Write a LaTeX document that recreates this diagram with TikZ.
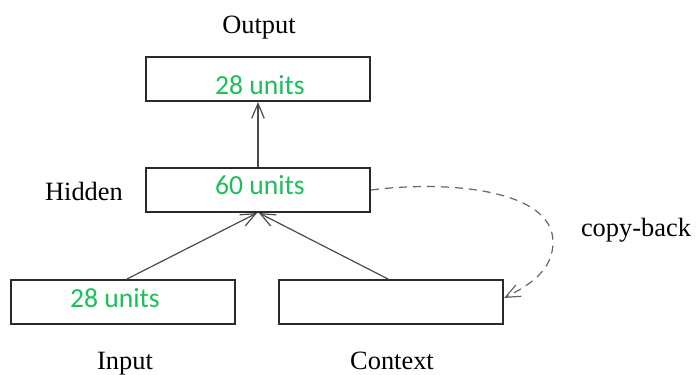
\documentclass[tikz,border=0pt]{standalone}
\usepackage{fontspec}
\setmainfont{Liberation Serif}
\newfontfamily\unitfont{Carlito}
\usetikzlibrary{arrows.meta, positioning}
\definecolor{unitgreen}{HTML}{1EBE5A}
\definecolor{boxline}{HTML}{2A2A2A}
\definecolor{arrline}{HTML}{4A4A4A}
\tikzset{
  layer/.style  = {rectangle, draw=boxline, line width=1pt, fill=white,
                   minimum width=112pt, minimum height=22pt, inner sep=0pt},
  units/.style  = {font=\unitfont\fontsize{13.8}{16}\selectfont, text=unitgreen,
                   inner sep=0pt, anchor=base},
  lbl/.style    = {font=\fontsize{13.2}{16}\selectfont, inner sep=0pt, anchor=base},
  flow/.style   = {-{Straight Barb[length=2.6mm, width=2.2mm]}, line width=0.6pt, draw=arrline},
  copyline/.style={-{Straight Barb[length=2.6mm, width=2.2mm]}, line width=0.6pt,
                   draw=arrline!85, dash pattern=on 4pt off 3pt},
}

\begin{document}
\begin{tikzpicture}[x=0.5pt, y=-0.5pt]
  \useasboundingbox (0,0) rectangle (698,375);
  % the three layers and the context copy
  \node[layer] (out) at (258,79)  {};
  \node[layer] (hid) at (258,190) {};
  \node[layer] (inp) at (123,302) {};
  \node[layer] (ctx) at (391,302) {};
  \node[units] (outn) at (260,95)  {28 units};
  \node[units] (hidn) at (260,194) {60 units};
  \node[units] (inpn) at (115,307) {28 units};
  % names
  \node[lbl] (outl) at (259,33)  {Output};
  \node[lbl] (hidl) at (84,200)  {Hidden};
  \node[lbl] (inpl) at (125,369) {Input};
  \node[lbl] (ctxl) at (392,369) {Context};
  \node[lbl] (cpl)  at (636,236) {copy-back};
  % connections
  \draw[flow] (hid.north) -- (out.south);
  \draw[flow] ([xshift=2pt]inp.north) -- ([xshift=-0.5pt]hid.south);
  \draw[flow] ([xshift=-1.5pt]ctx.north) -- ([xshift=0.5pt]hid.south);
  \draw[copyline] (hid.east) .. controls (450,180) and (553,190) .. (553,242)
                  .. controls (553,270) and (530,285) .. ([yshift=2pt]ctx.east);
\end{tikzpicture}
\end{document}
